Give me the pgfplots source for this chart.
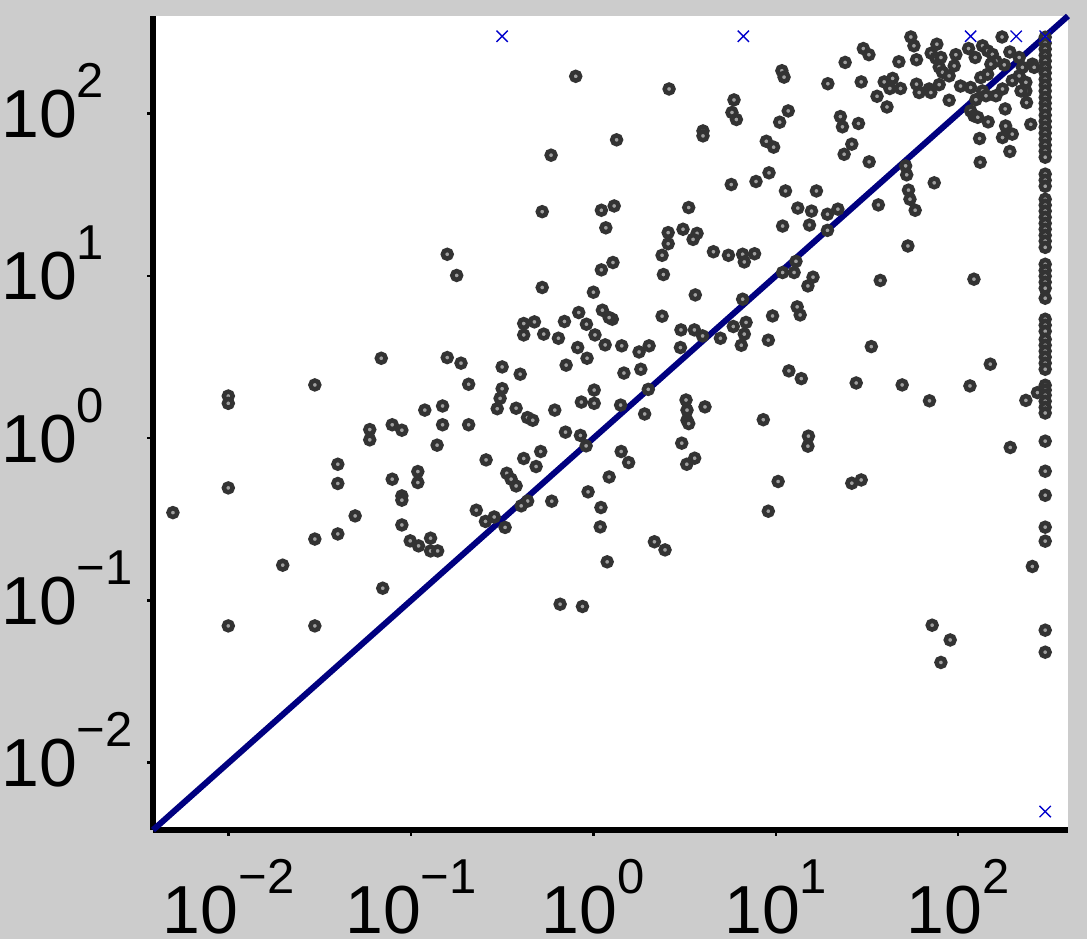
\documentclass[border=0pt]{standalone}
\usepackage{fontspec}
\setmainfont{Liberation Sans}
\usepackage{pgfplots}
\pgfplotsset{compat=1.18}
\definecolor{bggray}{RGB}{204,204,204}
\definecolor{ringgray}{RGB}{51,51,51}
\definecolor{dotgray}{RGB}{160,160,160}
\definecolor{diagnavy}{RGB}{0,0,128}
\definecolor{xblue}{RGB}{0,0,204}
\newcommand\tl[1]{10\raisebox{40pt}{\fontsize{49}{49}\selectfont #1}}

\begin{document}
\begin{tikzpicture}
\useasboundingbox (0,0) rectangle (1087pt,939pt);
\fill[bggray] (0,0) rectangle (1087pt,939pt);
\begin{axis}[
  at={(153pt,109pt)}, anchor=south west,
  scale only axis, width=915pt, height=814pt,
  xmode=log, ymode=log,
  xmin=0.00385, xmax=400, ymin=0.00385, ymax=400,
  axis background/.style={fill=white},
  axis x line*=bottom, axis y line*=left,
  axis line style={line width=6pt, black},
  xtick={0.01,0.1,1,10,100}, ytick={0.01,0.1,1,10,100},
  xticklabels={\tl{−2},\tl{−1},\tl{0},\tl{1},\tl{2}},
  yticklabels={\tl{−2},\tl{−1},\tl{0},\tl{1},\tl{2}},
  tick align=outside, major tick length=6pt,
  tick style={line width=2.5pt, black},
  minor tick style={draw=none},
  ticklabel style={font=\fontsize{68}{68}\selectfont, inner sep=0pt},
  xticklabel style={anchor=base, yshift=-98pt},
  yticklabel style={anchor=base west, xshift=-146pt, yshift=-24pt},
  clip=false,
]
\addplot[only marks, mark=*, mark size=4.4pt,
  mark options={draw=ringgray, fill=dotgray, line width=4.5pt}]
coordinates {
(0.80,170) (1.34,69) (0.586,55.5) (0.524,24.9) (1.106,25.4) (1.30,27.0)
(1.17,19.8) (0.158,13.6) (0.178,10.07) (1.28,12.1) (1.106,10.9) (0.524,8.49)
(1.0,7.94)
(2.60,142) (3.99,78.3) (3.99,73) (5.90,121.6) (5.75,101.7) (6.08,92.1)
(10.8,184) (11.1,168) (19.3,153) (24.0,207) (11.7,104) (10.5,88.6)
(8.87,67.6) (9.73,62.2) (22.6,96) (23.2,83) (23.7,56.2) (5.70,36.6)
(7.79,38.2) (9.18,43.2) (11.3,33.4) (16.7,33.4) (13.2,26.2) (15.7,25.1)
(19.2,24.0) (21.9,25.8) (3.33,26.4) (2.57,18.5) (2.57,15.8) (3.10,19.4)
(3.70,18.3) (3.52,16.8) (2.38,13.4) (2.42,10.2) (4.55,14.1) (5.50,13.4)
(6.58,13.6) (6.72,12.2) (7.65,13.7) (10.9,20.3) (15.3,20.6) (19.2,19.1)
(12.9,12.3) (10.9,10.5) (12.6,10.5) (16.0,9.83) (15.0,8.68)
(55,297) (57.2,262) (30.2,252) (32.4,231) (47.3,209) (29.4,157) (39.3,157)
(43.7,165) (42.2,143) (48.3,143) (35.9,128) (40.7,110) (59.1,215) (59.1,152)
(61.1,135) (69.3,142) (78.7,151) (70.8,135) (71.1,236) (76.4,268) (75.5,220)
(80.4,222) (78.7,194) (82.1,180) (89.2,171) (95.1,197) (97.1,231) (89.2,121)
(114,252) (124,222) (136,262) (145,244) (154,232) (161,211) (151,202)
(174,297) (192,240) (179,200) (216,222) (225,193) (255,202) (261,193)
(133,167) (145,175) (103,148) (117,145) (136,138) (142,129) (161,129)
(175,142) (198,160) (216,171) (235,156) (235,138) (221,138) (125,122)
(117,104) (122,97) (128,95) (146,89) (181,107) (182,84) (198,74.8)
(175,71.3) (192,58.5) (237,117) (250,86) (131,70.3) (132,50.2)
(28.4,87) (26.1,64.9) (32.5,50.5) (51.5,47.7) (52.2,42.0) (53.4,33.8)
(54.4,29.7) (58.1,25.4) (73.9,37.5) (36.5,27.4) (53.0,15.3) (37.4,9.38)
(122,9.55)
(33.4,3.67) (150,2.86) (27.6,2.19) (49.3,2.13) (116,2.10) (69.6,1.70)
(235,1.71) (272,1.91) (193,0.877) (26.1,0.528) (29.4,0.553)
(255,0.162) (72.0,0.0704) (90.4,0.0571) (80.4,0.0415)
(3.62,7.64) (6.58,7.19) (2.38,5.65) (1.27,5.41) (13.1,6.45) (13.6,5.75)
(9.6,5.67) (3.02,4.65) (3.58,4.65) (3.97,4.27) (4.97,4.13) (5.85,4.88)
(6.87,5.17) (6.72,4.38) (6.47,3.74) (9.1,4.02) (1.43,3.71) (1.78,3.40)
(2.02,3.71) (1.47,2.52) (1.82,2.66) (3.0,3.62) (2.0,2.0) (1.41,1.60)
(1.91,1.41) (11.8,2.60) (13.8,2.33) (3.22,1.72) (3.26,1.49) (3.26,1.29)
(3.33,1.23) (4.09,1.56) (8.54,1.30) (3.05,0.932) (1.42,0.828) (1.56,0.708)
(3.25,0.691) (3.59,0.753) (1.22,0.577) (15.1,1.03) (15.0,0.893) (10.3,0.541)
(9.1,0.355) (2.16,0.230) (2.47,0.205) (1.19,0.173)
(0.070,0.119) (0.657,0.0948) (0.871,0.0918) (0.0198,0.165) (0.00996,0.0697)
(0.0297,0.0697)
(0.0687,3.11) (0.0297,2.13) (0.00996,1.82) (0.00996,1.64) (0.0594,1.13)
(0.0594,0.977) (0.0397,0.691) (0.0397,0.526) (0.00996,0.494) (0.00495,0.348)
(0.0494,0.332) (0.0397,0.257) (0.0297,0.239)
(0.158,3.14) (0.188,2.90) (0.207,2.15) (0.316,2.75) (0.397,2.48) (0.316,2.02)
(0.308,1.76) (0.297,1.52) (0.377,1.53) (0.435,1.34) (0.465,1.29) (0.119,1.49)
(0.149,1.58) (0.0789,1.21) (0.0891,1.12) (0.149,1.21) (0.207,1.21)
(0.139,0.906) (0.258,0.735) (0.415,0.750) (0.514,0.828) (0.485,0.669)
(0.0789,0.559) (0.109,0.623) (0.109,0.533) (0.0891,0.441) (0.0891,0.415)
(0.335,0.608) (0.354,0.559) (0.377,0.508) (0.614,1.49) (0.703,1.09)
(0.849,1.04) (0.912,0.897) (0.859,1.67) (1.01,1.64) (1.01,1.98) (0.935,0.467)
(1.10,0.374) (1.09,0.284) (0.591,0.409) (0.436,0.410) (0.402,0.383)
(0.228,0.360) (0.256,0.307) (0.286,0.327) (0.328,0.282) (0.0891,0.292)
(0.099,0.233) (0.110,0.217) (0.128,0.242) (0.128,0.202) (0.140,0.202)
(0.415,5.09) (0.475,5.21) (0.415,4.33) (0.534,4.38) (0.643,4.13) (0.694,5.24)
(0.831,5.95) (0.916,5.04) (1.02,4.33) (0.820,3.62) (0.923,3.11) (0.709,2.82)
(1.12,6.15) (1.22,5.54) (1.16,3.76)
% timeouts at 300 s
(300,296) (300,272) (300,250) (300,229) (300,211) (300,193) (300,178)
(300,163) (300,150) (300,138) (300,126) (300,116) (300,107) (300,97.9)
(300,89.9) (300,82.6) (300,75.9) (300,69.7) (300,64.0) (300,58.7) (300,53.9)
(300,42.4) (300,38.9) (300,35.7) (300,29.7) (300,27.3) (300,25.1) (300,23.0)
(300,21.1) (300,19.4) (300,17.8) (300,16.4) (300,15.0) (300,11.8) (300,10.8)
(300,9.96) (300,9.15) (300,8.40) (300,7.29) (300,5.41) (300,4.97) (300,4.56)
(300,4.07) (300,3.74) (300,3.44) (300,3.16) (300,2.90) (300,2.66) (300,2.12)
(300,1.98) (300,1.84) (300,1.69) (300,1.55) (300,1.43) (300,0.959)
(300,0.626) (300,0.445) (300,0.283) (300,0.232) (300,0.0656) (300,0.048)
};
\addplot[diagnavy, line width=6pt, no marks] coordinates {(0.00385,0.00385) (400,400)};
\addplot[only marks, mark=x, mark size=8pt, xblue,
  mark options={line width=1.3pt}]
coordinates {(0.316,300) (6.64,300) (117,300) (208,300) (300,300) (300,0.005)};
\end{axis}
\end{tikzpicture}
\end{document}
